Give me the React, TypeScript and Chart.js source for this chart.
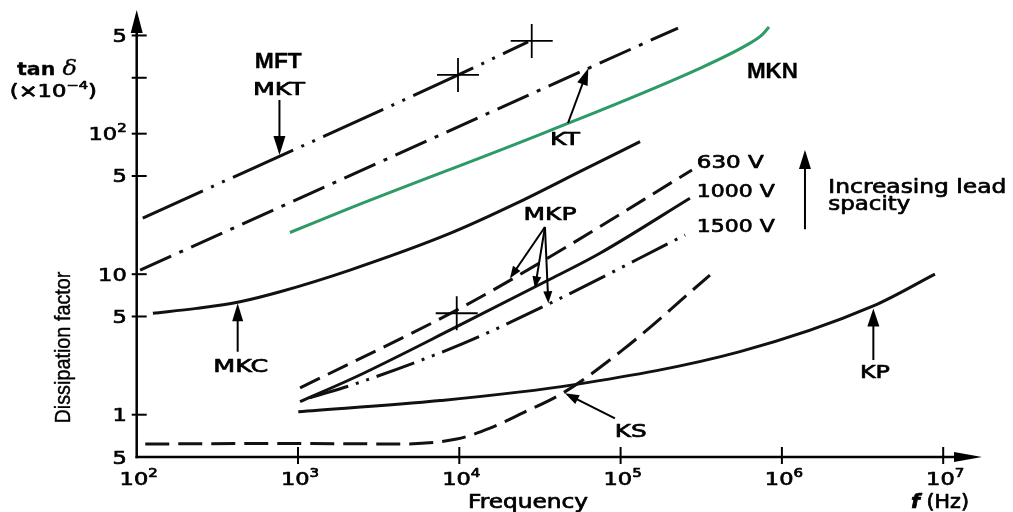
import React, { useEffect, useRef } from "react";
import { Chart, registerables } from "chart.js";

Chart.register(...registerables);

// ---------------- data (frequency in Hz, tan δ in 10^-4) ----------------
const mftFreq = [109, 9860, 26700];
const mftTan = [25.1, 262, 450];

const ktFreq = [105, 63100, 227000];
const ktTan = [10.7, 292, 565];

const mknFreq = [891, 2100, 34800, 310000, 600000, 753000, 832000];
const mknTan = [19.8, 29.5, 103, 292, 425, 505, 574];

const mkcFreq = [126, 235, 437, 774, 2100, 8750, 22700, 58700, 132000];
const mkcTan = [5.27, 5.71, 6.37, 7.5, 10.7, 19.5, 32.0, 55.2, 87.7];

const mkp630Freq = [1030, 10500, 36500, 277000];
const mkp630Tan = [1.55, 5.85, 13.3, 55.2];

const mkp1000Freq = [1030, 2310, 9640, 36500, 74500, 269000];
const mkp1000Tan = [1.24, 1.87, 4.23, 9.2, 14.1, 34.7];

const mkp1500Freq = [1186, 2310, 10600, 34800, 251000];
const mkp1500Tan = [1.32, 1.67, 3.22, 6.04, 19.0];

const kpFreq = [1004, 7590, 50700, 550000, 3690000, 8890000];
const kpTan = [1.05, 1.26, 1.63, 2.81, 5.94, 10.0];

const ksFreq = [113, 891, 4290, 9640, 15500, 24800, 44000, 103000, 358000];
const ksTan = [0.619, 0.624, 0.619, 0.671, 0.803, 1.03, 1.43, 2.89, 9.86];

const xTickValues = [1e2, 1e3, 1e4, 1e5, 1e6, 1e7];
const xTickLabels = ["10^2", "10^3", "10^4", "10^5", "10^6", "10^7"];
const yTickValues = [0.5, 1, 5, 10, 50, 100, 250, 500];
const yTickLabels = ["5", "1", "5", "10", "5", "10^2", "", "5"];

// ---------------- annotation layout (positions as log10 of data values) ----------------
const FONT = (size: number, style = "") => `${style} ${size}px "DejaVu Sans", sans-serif`.trim();
const BOLD_ARIAL = 'bold 22px "Liberation Sans", Arial, sans-serif';

type Run = { t: string; font: string; dy?: number };
type Label = {
  runs: Run[];
  lx: number;
  ly: number;
  align: "left" | "center" | "right";
  w: number;
  rotate?: number;
  stroke?: number;
};

const labels: Label[] = [
  { runs: [{ t: "MFT", font: BOLD_ARIAL }], lx: 2.878, ly: 2.466, align: "center", w: 47, stroke: 0.3 },
  { runs: [{ t: "MKT", font: FONT(18) }], lx: 2.882, ly: 2.276, align: "center", w: 52 },
  { runs: [{ t: "MKN", font: BOLD_ARIAL }], lx: 5.941, ly: 2.394, align: "center", w: 51, stroke: 0.3 },
  { runs: [{ t: "KT", font: FONT(18) }], lx: 4.655, ly: 1.92, align: "center", w: 30 },
  { runs: [{ t: "630 V", font: FONT(18) }], lx: 5.472, ly: 1.754, align: "left", w: 67 },
  { runs: [{ t: "1000 V", font: FONT(18) }], lx: 5.472, ly: 1.552, align: "left", w: 78 },
  { runs: [{ t: "1500 V", font: FONT(18) }], lx: 5.472, ly: 1.303, align: "left", w: 78 },
  { runs: [{ t: "Increasing lead", font: FONT(20) }], lx: 6.288, ly: 1.576, align: "left", w: 178 },
  { runs: [{ t: "spacity", font: FONT(20) }], lx: 6.288, ly: 1.457, align: "left", w: 82 },
  { runs: [{ t: "MKP", font: FONT(18) }], lx: 4.562, ly: 1.386, align: "center", w: 53 },
  { runs: [{ t: "MKC", font: FONT(18) }], lx: 2.645, ly: 0.306, align: "center", w: 55 },
  { runs: [{ t: "KP", font: FONT(18) }], lx: 6.577, ly: 0.259, align: "center", w: 30 },
  { runs: [{ t: "KS", font: FONT(18) }], lx: 5.063, ly: -0.157, align: "center", w: 32 },
  {
    runs: [
      { t: "tan ", font: FONT(17, "bold") },
      { t: "δ", font: 'italic 20px "DejaVu Serif", serif' },
    ],
    lx: 1.444, ly: 2.418, align: "center", w: 60, stroke: 0.3,
  },
  {
    runs: [
      { t: "(×10", font: FONT(17) },
      { t: "−4", font: FONT(11), dy: -8 },
      { t: ")", font: FONT(17) },
    ],
    lx: 1.483, ly: 2.261, align: "center", w: 87,
  },
  { runs: [{ t: "Frequency", font: FONT(19) }], lx: 4.426, ly: -0.665, align: "center", w: 120 },
  {
    runs: [
      { t: "f", font: FONT(19, "italic bold") },
      { t: " (Hz)", font: FONT(19) },
    ],
    lx: 6.8, ly: -0.665, align: "left", w: 58,
  },
  {
    runs: [{ t: "Dissipation factor", font: '22px "Liberation Sans", Arial, sans-serif' }],
    lx: 1.586, ly: 0.478, align: "center", w: 152, rotate: -Math.PI / 2, stroke: 0.4,
  },
];

type Arrow = { from: [number, number]; to: [number, number]; len: number; half: number };
const arrows: Arrow[] = [
  { from: [2.885, 2.24], to: [2.885, 1.849], len: 19, half: 6 },
  { from: [4.674, 2.076], to: [4.8, 2.466], len: 17, half: 5.5 },
  { from: [6.143, 1.32], to: [6.143, 1.884], len: 19, half: 6 },
  { from: [4.531, 1.336], to: [4.314, 0.971], len: 12, half: 4.5 },
  { from: [4.531, 1.336], to: [4.469, 0.9], len: 12, half: 4.5 },
  { from: [4.531, 1.336], to: [4.552, 0.793], len: 12, half: 4.5 },
  { from: [2.626, 0.448], to: [2.626, 0.793], len: 18, half: 5.5 },
  { from: [6.567, 0.389], to: [6.567, 0.755], len: 18, half: 6 },
  { from: [4.965, -0.026], to: [4.655, 0.152], len: 14, half: 5 },
];

const crosshairs: [number, number][] = [
  [3.992, 2.418],
  [4.449, 2.66],
  [3.984, 0.722],
];

// ---------------- drawing helpers ----------------
function drawRuns(
  ctx: CanvasRenderingContext2D,
  runs: Run[],
  x: number,
  y: number,
  align: "left" | "center" | "right",
  targetW: number | null,
  sx: number,
  rotate?: number,
  stroke = 0.7
) {
  ctx.save();
  const widths = runs.map((r) => {
    ctx.font = r.font;
    return ctx.measureText(r.t).width;
  });
  const total = widths.reduce((a, b) => a + b, 0);
  const s = targetW ? targetW / total : sx;
  ctx.translate(x, y);
  if (rotate) ctx.rotate(rotate);
  ctx.scale(s, 1);
  let start = align === "left" ? 0 : align === "center" ? -total / 2 : -total;
  ctx.textAlign = "left";
  ctx.textBaseline = "alphabetic";
  ctx.fillStyle = "#000";
  ctx.strokeStyle = "#000";
  ctx.lineWidth = stroke;
  ctx.lineJoin = "round";
  runs.forEach((r, i) => {
    ctx.font = r.font;
    ctx.fillText(r.t, start, r.dy || 0);
    if (stroke > 0) ctx.strokeText(r.t, start, r.dy || 0);
    start += widths[i];
  });
  ctx.restore();
}

function powerRuns(label: string): Run[] {
  const [base, exp] = label.split("^");
  const runs: Run[] = [{ t: base, font: FONT(18) }];
  if (exp) runs.push({ t: exp, font: FONT(12), dy: -8 });
  return runs;
}

function drawArrow(ctx: CanvasRenderingContext2D, x1: number, y1: number, x2: number, y2: number, len: number, half: number) {
  const dx = x2 - x1;
  const dy = y2 - y1;
  const d = Math.hypot(dx, dy);
  const ux = dx / d;
  const uy = dy / d;
  const bx = x2 - ux * len;
  const by = y2 - uy * len;
  ctx.beginPath();
  ctx.moveTo(x1, y1);
  ctx.lineTo(bx + ux * 2, by + uy * 2);
  ctx.stroke();
  ctx.beginPath();
  ctx.moveTo(x2, y2);
  ctx.lineTo(bx - uy * half, by + ux * half);
  ctx.lineTo(bx + uy * half, by - ux * half);
  ctx.closePath();
  ctx.fill();
}

const decorPlugin = {
  id: "decor",
  beforeDraw(chart: any) {
    const { ctx, width, height } = chart;
    ctx.save();
    ctx.fillStyle = "#fff";
    ctx.fillRect(0, 0, width, height);
    ctx.restore();
  },
  afterDraw(chart: any) {
    const ctx: CanvasRenderingContext2D = chart.ctx;
    const xs = chart.scales.x;
    const ys = chart.scales.y;
    const ca = chart.chartArea;
    const X = (lx: number) => xs.getPixelForValue(Math.pow(10, lx));
    const Y = (ly: number) => ys.getPixelForValue(Math.pow(10, ly));

    ctx.save();
    ctx.strokeStyle = "#000";
    ctx.fillStyle = "#000";

    // axes
    ctx.lineWidth = 2.5;
    ctx.beginPath();
    ctx.moveTo(ca.left, ca.bottom + 1.2);
    ctx.lineTo(ca.left, ca.top + 18);
    ctx.stroke();
    ctx.beginPath();
    ctx.moveTo(ca.left - 1.2, ca.bottom);
    ctx.lineTo(ca.right - 20, ca.bottom);
    ctx.stroke();
    ctx.beginPath();
    ctx.moveTo(ca.left, ca.top);
    ctx.lineTo(ca.left - 6, ca.top + 23);
    ctx.lineTo(ca.left + 6, ca.top + 23);
    ctx.closePath();
    ctx.fill();
    ctx.beginPath();
    ctx.moveTo(ca.right, ca.bottom);
    ctx.lineTo(ca.right - 28, ca.bottom - 5);
    ctx.lineTo(ca.right - 28, ca.bottom + 5);
    ctx.closePath();
    ctx.fill();

    // ticks
    ctx.lineWidth = 2;
    yTickValues.forEach((v, i) => {
      const y = ys.getPixelForValue(v);
      if (i > 0) {
        ctx.beginPath();
        ctx.moveTo(ca.left - 5, y);
        ctx.lineTo(ca.left + 10, y);
        ctx.stroke();
      }
      if (yTickLabels[i]) drawRuns(ctx, powerRuns(yTickLabels[i]), ca.left - 10, y + 6.5, "right", null, 1.25);
    });
    xTickValues.forEach((v, i) => {
      const x = xs.getPixelForValue(v);
      if (i > 0) {
        ctx.beginPath();
        ctx.moveTo(x, ca.bottom - 10);
        ctx.lineTo(x, ca.bottom + 7);
        ctx.stroke();
      }
      drawRuns(ctx, powerRuns(xTickLabels[i]), x + 2, ca.bottom + 28, "center", null, 1.25);
    });

    // crosshairs
    ctx.lineWidth = 1.8;
    crosshairs.forEach(([lx, ly]) => {
      const cx = X(lx);
      const cy = Y(ly);
      ctx.beginPath();
      ctx.moveTo(cx - 21, cy);
      ctx.lineTo(cx + 21, cy);
      ctx.moveTo(cx, cy - 17);
      ctx.lineTo(cx, cy + 17);
      ctx.stroke();
    });

    // arrows
    ctx.lineWidth = 2;
    arrows.forEach((a) => {
      drawArrow(ctx, X(a.from[0]), Y(a.from[1]), X(a.to[0]), Y(a.to[1]), a.len, a.half);
    });

    // labels
    labels.forEach((l) => {
      drawRuns(ctx, l.runs, X(l.lx), Y(l.ly), l.align, l.w, 1, l.rotate, l.stroke ?? 0.7);
    });

    ctx.restore();
  },
};

const pts = (f: number[], v: number[]) => f.map((x, i) => ({ x, y: v[i] }));

export default function App() {
  const ref = useRef<HTMLCanvasElement | null>(null);

  useEffect(() => {
    document.body.style.margin = "0";
    document.body.style.overflow = "hidden";
    const canvas = ref.current;
    if (!canvas) return;
    const black = "#111";
    const common = {
      borderWidth: 3,
      pointRadius: 0,
      fill: false,
      cubicInterpolationMode: "monotone" as const,
      borderCapStyle: "butt" as const,
    };
    const chart = new Chart(canvas, {
      type: "line",
      data: {
        datasets: [
          { ...common, label: "MFT / MKT", data: pts(mftFreq, mftTan), borderColor: black, borderDash: [66, 9, 3, 9, 3, 9] },
          { ...common, label: "KT", data: pts(ktFreq, ktTan), borderColor: black, borderDash: [34, 9, 4, 9] },
          { ...common, label: "MKN", data: pts(mknFreq, mknTan), borderColor: "#2e9a66" },
          { ...common, label: "MKC", data: pts(mkcFreq, mkcTan), borderColor: black },
          { ...common, label: "MKP 630 V", data: pts(mkp630Freq, mkp630Tan), borderColor: black, borderDash: [22, 9] },
          { ...common, label: "MKP 1000 V", data: pts(mkp1000Freq, mkp1000Tan), borderColor: black },
          { ...common, label: "MKP 1500 V", data: pts(mkp1500Freq, mkp1500Tan), borderColor: black, borderDash: [40, 8, 3, 8, 3, 8] },
          { ...common, label: "KP", data: pts(kpFreq, kpTan), borderColor: black },
          { ...common, label: "KS", data: pts(ksFreq, ksTan), borderColor: black, borderDash: [24, 9] },
        ],
      },
      options: {
        responsive: false,
        animation: false,
        devicePixelRatio: 1,
        layout: { padding: { left: 136.7, right: 31, top: 10, bottom: 55 } },
        scales: {
          x: { type: "logarithmic", min: 100, max: 1.74e7, display: false },
          y: { type: "logarithmic", min: 0.5, max: 759, display: false },
        },
        plugins: { legend: { display: false }, tooltip: { enabled: false } },
        events: [],
      },
      plugins: [decorPlugin],
    });
    return () => chart.destroy();
  }, []);

  return (
    <div style={{ width: 1013, height: 512 }}>
      <canvas ref={ref} width={1013} height={512} style={{ display: "block" }} />
    </div>
  );
}
